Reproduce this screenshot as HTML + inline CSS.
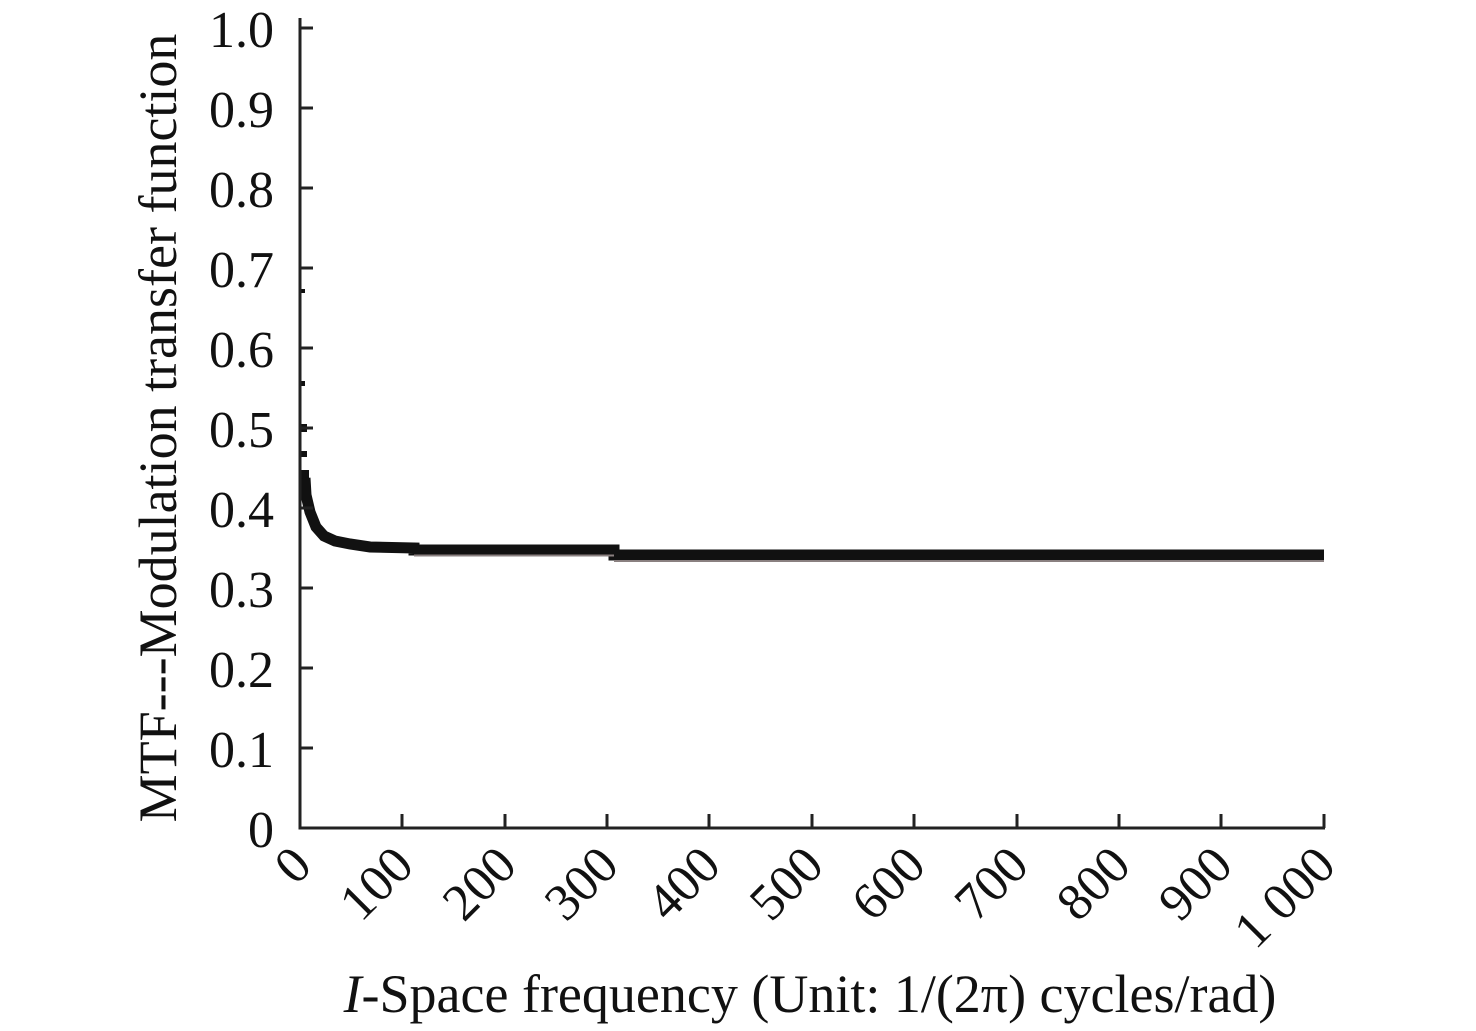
<!DOCTYPE html>
<html><head><meta charset="utf-8"><style>html,body{margin:0;padding:0;background:#fff}svg{display:block}</style></head>
<body>
<svg width="1476" height="1031" viewBox="0 0 1476 1031" xmlns="http://www.w3.org/2000/svg" font-family="'Liberation Serif', serif" fill="#111">
<g fill="#111">
<rect x="301" y="289" width="4" height="4"/>
<rect x="301" y="381" width="4" height="5"/>
<rect x="301" y="424" width="6" height="8"/>
<rect x="301" y="451" width="6" height="6"/>
<rect x="301" y="470" width="8" height="10"/>
</g>
<path d="M305,478 L306,495 L310,512 L316,527 L324,536 L335,541 L350,544 L370,547 L414,548 L414,550 L614,550 L614,555 L1324,555" fill="none" stroke="#111" stroke-width="11"/>
<path d="M414,555.5 L614,555.5 M614,561 L1324,561" stroke="#8a8080" stroke-width="2"/>
<path d="M300,18 V828 H1325" fill="none" stroke="#222" stroke-width="3"/>
<g stroke="#222" stroke-width="3">
<path d="M300,28h13M300,108h13M300,188h13M300,268h13M300,348h13M300,428h13M300,508h13M300,588h13M300,668h13M300,748h13"/>
<path d="M402,828v-14M505,828v-14M607,828v-14M709,828v-14M812,828v-14M914,828v-14M1017,828v-14M1119,828v-14M1221,828v-14M1324,828v-14"/>
</g>
<g font-size="52" text-anchor="end">
<text x="274" y="47">1.0</text><text x="274" y="127">0.9</text><text x="274" y="207">0.8</text><text x="274" y="287">0.7</text><text x="274" y="367">0.6</text><text x="274" y="447">0.5</text><text x="274" y="527">0.4</text><text x="274" y="607">0.3</text><text x="274" y="687">0.2</text><text x="274" y="767">0.1</text><text x="274" y="847">0</text>
</g>
<g font-size="52" text-anchor="end">
<text transform="translate(314,868) rotate(-45)">0</text>
<text transform="translate(416,868) rotate(-45)">100</text>
<text transform="translate(519,868) rotate(-45)">200</text>
<text transform="translate(621,868) rotate(-45)">300</text>
<text transform="translate(723,868) rotate(-45)">400</text>
<text transform="translate(826,868) rotate(-45)">500</text>
<text transform="translate(928,868) rotate(-45)">600</text>
<text transform="translate(1031,868) rotate(-45)">700</text>
<text transform="translate(1133,868) rotate(-45)">800</text>
<text transform="translate(1235,868) rotate(-45)">900</text>
<text transform="translate(1338,868) rotate(-45)">1 000</text>
</g>
<text x="810" y="1012" font-size="54" text-anchor="middle"><tspan font-style="italic">I</tspan>-Space frequency (Unit: 1/(2π) cycles/rad)</text>
<text transform="translate(176,428) rotate(-90)" font-size="54" text-anchor="middle">MTF---Modulation transfer function</text>
</svg>
</body></html>
